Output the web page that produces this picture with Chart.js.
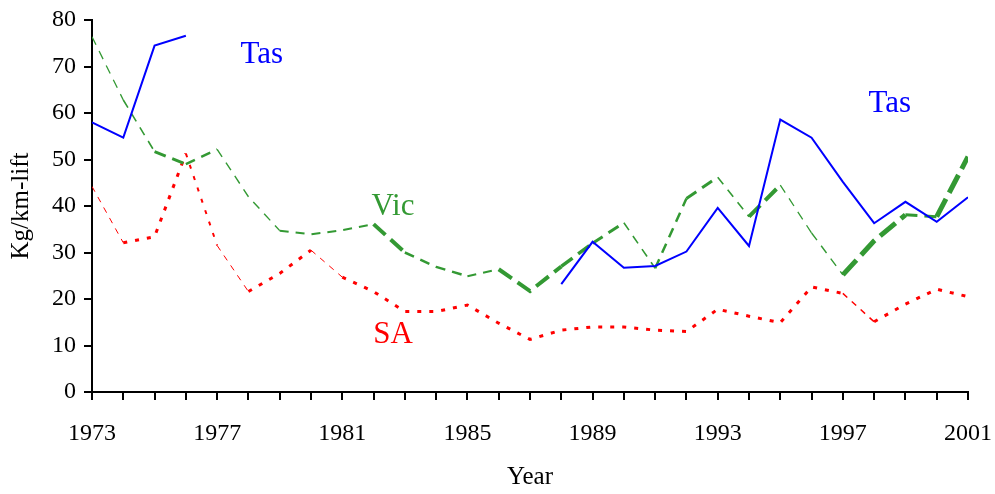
<!DOCTYPE html>
<html>
<head>
<meta charset="utf-8">
<script src="https://cdn.jsdelivr.net/npm/chart.js@4/dist/chart.umd.min.js"></script>
<style>
  html, body { margin: 0; padding: 0; background: #fff; }
  #wrap { width: 995px; height: 494px; }
</style>
</head>
<body>
<div id="wrap"><canvas id="c" width="995" height="494"></canvas></div>
<script>
// ---- data ----
const years = [1973,1974,1975,1976,1977,1978,1979,1980,1981,1982,1983,1984,1985,1986,1987,
               1988,1989,1990,1991,1992,1993,1994,1995,1996,1997,1998,1999,2000,2001];
const tas = [58.0,54.7,74.5,76.6,null,null,null,null,null,null,null,null,null,null,null,
             23.2,32.3,26.7,27.1,30.2,39.6,31.4,58.6,54.7,45.2,36.3,40.9,36.6,41.9];
const vic = [76.4,62.8,51.7,49.0,52.2,42.0,34.7,33.9,34.8,36.1,30.0,26.9,24.9,26.4,21.7,
             27.0,32.0,36.4,26.6,41.6,46.2,37.7,44.5,34.2,25.2,32.5,38.1,37.7,50.6];
const sa  = [44.2,32.1,33.4,51.3,31.5,21.6,25.5,30.5,24.7,21.6,17.3,17.3,18.7,14.8,11.3,
             13.3,14.0,14.0,13.3,13.0,17.8,16.3,14.9,22.6,21.2,15.1,18.9,22.1,20.5];
const yTicks = [0,10,20,30,40,50,60,70,80];
const labelEvery = 4;
const seriesNames = ['Tas','Vic','SA'];
// text annotations, in data units (year, Kg/km-lift)
const noteText = ['Tas','Tas','Vic','SA'];
const noteYear = [1978.43,1998.5,1982.62,1982.62];
const noteVal  = [70.7,60.3,38.1,10.5];

// ---- styles ----
const BLUE = '#0000ff', GREEN = '#339933', RED = '#ff0000';
const noteColor = [BLUE, BLUE, GREEN, RED];
const vicSegWidth = [1.3,1.6,3,2.5,1.4,1.4,2,2,2,4,2.5,2.5,2,4,4,3.5,3,1.6,2.5,3,1.6,4,1.3,1.4,5,5,3,5];
const saSegWidth  = [1,3,3,2,1,3,3,1,3,3,3,3,3,3,3,3,3,3,3,3,3,3,3,3,1.5,3,3,3];
const FONT = '"Liberation Serif", "Times New Roman", serif';

const notesPlugin = {
  id: 'notes',
  afterDatasetsDraw(chart) {
    const {ctx, scales: {x, y}} = chart;
    ctx.save();
    ctx.font = '31px ' + FONT;
    ctx.textAlign = 'center';
    ctx.textBaseline = 'alphabetic';
    noteText.forEach((t, i) => {
      ctx.fillStyle = noteColor[i];
      ctx.fillText(t, x.getPixelForValue(noteYear[i]), y.getPixelForValue(noteVal[i]));
    });
    ctx.restore();
  }
};

const mk = arr => years.map((yr, i) => ({x: yr, y: arr[i]}));

new Chart(document.getElementById('c'), {
  type: 'line',
  data: {
    datasets: [
      { label: seriesNames[0], data: mk(tas), borderColor: BLUE, borderWidth: 2,
        pointRadius: 0, spanGaps: false, tension: 0 },
      { label: seriesNames[1], data: mk(vic), borderColor: GREEN, borderWidth: 2,
        pointRadius: 0, tension: 0, borderCapStyle: 'butt',
        segment: {
          borderWidth: c => vicSegWidth[c.p0DataIndex],
          borderDash: c => { const w = vicSegWidth[c.p0DataIndex]; return [Math.max(9, w * 4), 7]; }
        } },
      { label: seriesNames[2], data: mk(sa), borderColor: RED, borderWidth: 3,
        pointRadius: 0, tension: 0, borderCapStyle: 'butt',
        segment: {
          borderWidth: c => saSegWidth[c.p0DataIndex],
          borderDash: c => saSegWidth[c.p0DataIndex] < 2 ? [6, 6] : [4, 8]
        } }
    ]
  },
  options: {
    responsive: false,
    animation: false,
    layout: { padding: { top: 20, right: 27, left: 0, bottom: 0 } },
    plugins: { legend: { display: false }, tooltip: { enabled: false } },
    scales: {
      x: {
        type: 'linear',
        min: years[0], max: years[years.length - 1],
        afterFit: s => { s.height = 102; s.paddingLeft = 0; s.paddingRight = 0; },
        ticks: {
          stepSize: 1, autoSkip: false, maxRotation: 0, color: '#000', padding: 19,
          font: { family: FONT, size: 24 },
          callback: v => ((v - years[0]) % labelEvery === 0 ? String(v) : '')
        },
        grid: { display: true, drawOnChartArea: false, drawTicks: true, tickLength: 8,
                color: '#000', lineWidth: 2 },
        border: { display: true, color: '#000', width: 2 },
        title: { display: true, text: 'Year', color: '#000',
                 font: { family: FONT, size: 25 }, padding: { top: 0, bottom: 2 } }
      },
      y: {
        min: yTicks[0], max: yTicks[yTicks.length - 1],
        afterFit: s => { s.width = 92; s.paddingTop = 0; s.paddingBottom = 0; },
        afterBuildTicks: s => { s.ticks = yTicks.map(v => ({value: v})); },
        ticks: { color: '#000', padding: 8, font: { family: FONT, size: 24 } },
        grid: { display: true, drawOnChartArea: false, drawTicks: true, tickLength: 8,
                color: '#000', lineWidth: 2 },
        border: { display: true, color: '#000', width: 2 },
        title: { display: true, text: 'Kg/km-lift', color: '#000',
                 font: { family: FONT, size: 25 }, padding: { top: 6, bottom: 0 } }
      }
    }
  },
  plugins: [notesPlugin]
});
</script>
</body>
</html>
